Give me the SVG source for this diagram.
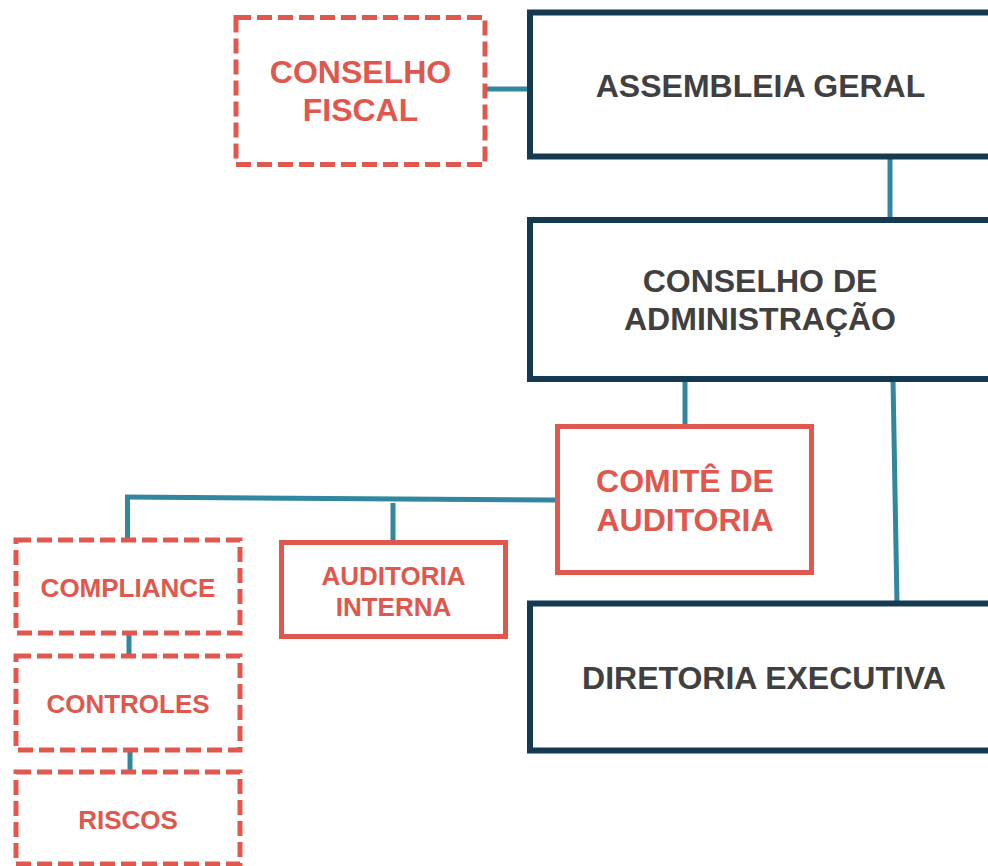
<svg xmlns="http://www.w3.org/2000/svg" width="988" height="866" viewBox="0 0 988 866">
<style>
.dark{fill:#fff;stroke:#143A52;stroke-width:6}
.red{fill:#fff;stroke:#E0584D;stroke-width:5}
.dash{fill:#fff;stroke:#E0584D;stroke-width:5;stroke-dasharray:15 6}
.con{stroke:#31879F;stroke-width:5;fill:none}
text{font-family:"Liberation Sans",Arial,sans-serif;font-weight:bold;text-anchor:middle}
.tg{fill:#404040;font-size:32px}
.tr{fill:#E0584D;font-size:32px}
.ts{fill:#E0584D;font-size:26px}
</style>
<rect width="988" height="866" fill="#fff"/>
<g id="connectors">
<line class="con" x1="485" y1="89" x2="530" y2="89"/>
<line class="con" x1="890" y1="157" x2="890" y2="220"/>
<line class="con" x1="685" y1="379" x2="685" y2="426"/>
<line class="con" x1="893" y1="379" x2="897" y2="603"/>
<line class="con" x1="125" y1="497" x2="557" y2="500"/>
<line class="con" x1="127.5" y1="497" x2="127.5" y2="540"/>
<line class="con" x1="393" y1="503" x2="393" y2="542"/>
<line class="con" x1="129" y1="633" x2="129" y2="656"/>
<line class="con" x1="130" y1="750" x2="130" y2="772"/>
</g>
<g id="conselho-fiscal">
<rect class="dash" x="236" y="17.5" width="249" height="147"/>
<text class="tr" x="360.5" y="83">CONSELHO</text>
<text class="tr" x="360.5" y="121">FISCAL</text>
</g>
<g id="assembleia-geral">
<rect class="dark" x="530" y="12.5" width="470" height="144"/>
<text class="tg" x="760.5" y="97">ASSEMBLEIA GERAL</text>
</g>
<g id="conselho-administracao">
<rect class="dark" x="530" y="220" width="470" height="159"/>
<text class="tg" x="760" y="292">CONSELHO DE</text>
<text class="tg" x="760" y="330">ADMINISTRAÇÃO</text>
</g>
<g id="comite-auditoria">
<rect class="red" x="557.5" y="426.5" width="254" height="146"/>
<text class="tr" x="685" y="492">COMITÊ DE</text>
<text class="tr" x="685" y="531">AUDITORIA</text>
</g>
<g id="diretoria-executiva">
<rect class="dark" x="530" y="603.5" width="470" height="147"/>
<text class="tg" x="764" y="689">DIRETORIA EXECUTIVA</text>
</g>
<g id="auditoria-interna">
<rect class="red" x="281.5" y="542.5" width="224" height="94"/>
<text class="ts" x="393.5" y="585">AUDITORIA</text>
<text class="ts" x="393.5" y="616">INTERNA</text>
</g>
<g id="compliance">
<rect class="dash" x="16" y="540" width="224" height="93"/>
<text class="ts" x="128" y="597">COMPLIANCE</text>
</g>
<g id="controles">
<rect class="dash" x="16" y="656" width="224" height="94"/>
<text class="ts" x="128" y="713">CONTROLES</text>
</g>
<g id="riscos">
<rect class="dash" x="16" y="772" width="224" height="92"/>
<text class="ts" x="128" y="829">RISCOS</text>
</g>
</svg>
